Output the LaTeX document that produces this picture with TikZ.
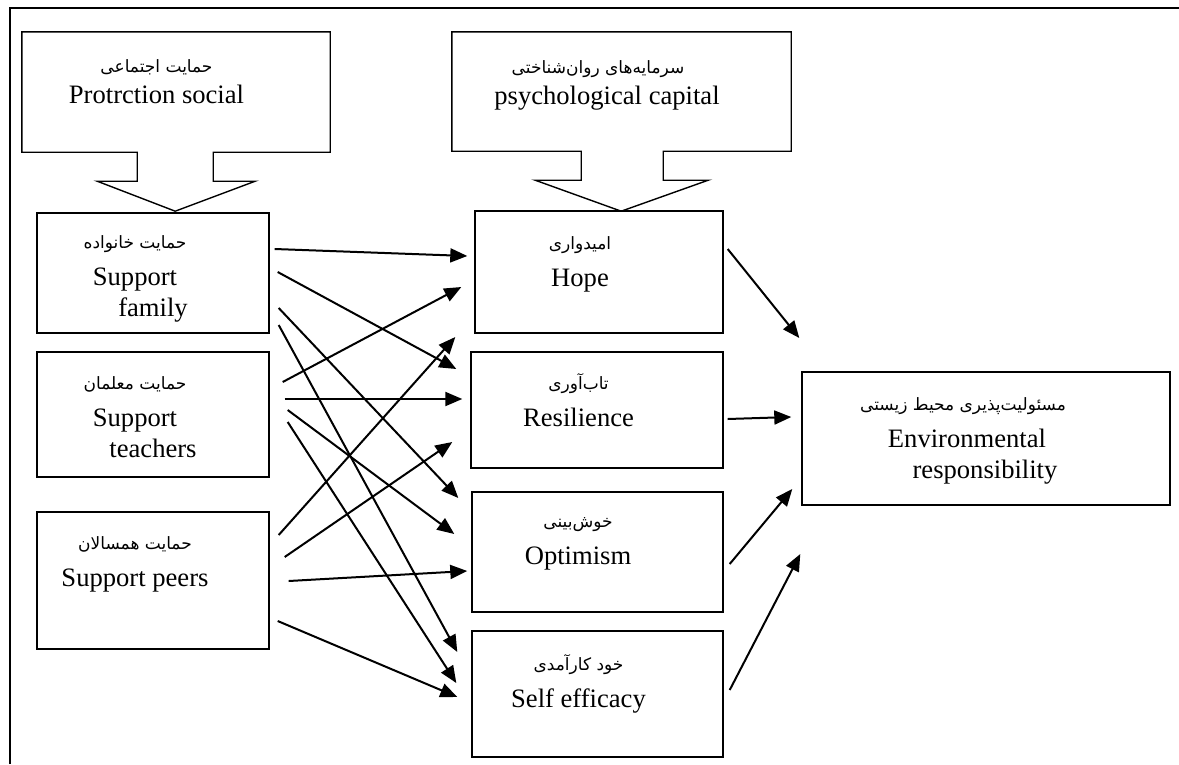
\documentclass[tikz,border=0pt]{standalone}
\usepackage{fontspec}
\setmainfont{Liberation Serif}
\newfontfamily\farsi[Script=Arabic]{DejaVu Sans}
\TeXXeTstate=1
\usetikzlibrary{arrows.meta,calc}

\newcommand{\fa}[1]{{\farsi\fontsize{17}{20}\selectfont\beginR #1\endR}}

\begin{document}
\begin{tikzpicture}[x=1pt, y=-1pt, >={Triangle[length=17pt,width=14pt]}]

    \tikzstyle{box}=[draw, line width=1.4pt, inner sep=0pt]
    \tikzstyle{txt}=[align=center, inner sep=0pt, font=\fontsize{26.6}{31}\selectfont]
    \tikzstyle{arr}=[->, line width=2pt]

    \useasboundingbox (0,0) rectangle (1179,764);
    \draw[line width=1.5pt] (10,764) -- (10,8) -- (1179,8);

    % the two callouts
    \node[inner sep=0pt, minimum width=308pt, minimum height=120pt] (soc) at (176,92) {};
    \node[inner sep=0pt, minimum width=339pt, minimum height=119pt] (psy) at (621.5,91.5) {};
    \draw[line width=1.4pt] (soc.south west) -- (soc.north west) -- (soc.north east) -- (soc.south east)
        -- ++(-117,0) -- ++(0,29) -- ++(42,0) -- ++(-80,30) -- ++(-78,-30) -- ++(40,0) -- ++(0,-29) -- cycle;
    \draw[line width=1.4pt] (psy.south west) -- (psy.north west) -- (psy.north east) -- (psy.south east)
        -- ++(-128,0) -- ++(0,29) -- ++(45,0) -- ++(-87,31) -- ++(-86,-31) -- ++(46,0) -- ++(0,-29) -- cycle;
    \node[txt] (soctxt) at (156.5,81.5) {\fa{حمایت اجتماعی}\\Protrction social};
    \node[txt] (psytxt) at (607,85.5) {\fa{سرمایه‌های روان‌شناختی}\hspace*{18pt}\\psychological capital};

    % sources
    \node[box, minimum width=232pt, minimum height=120pt] (fam)  at (153,273) {};
    \node[box, minimum width=232pt, minimum height=125pt] (tea)  at (153,414.5) {};
    \node[box, minimum width=232pt, minimum height=137pt] (peer) at (153,580.5) {};
    \node[txt] (famtxt)  at ($(fam)+(-18,6)$)    {\fa{حمایت خانواده}\\[6pt]Support\\\hspace*{36pt}family};
    \node[txt] (teatxt)  at ($(tea)+(-18,3)$)    {\fa{حمایت معلمان}\\[6pt]Support\\\hspace*{36pt}teachers};
    \node[txt] (peertxt) at ($(peer)+(-18,-16)$) {\fa{حمایت همسالان}\\[6pt]Support peers};

    % psychological capital
    \node[box, minimum width=248pt, minimum height=122pt] (hope) at (599,272) {};
    \node[box, minimum width=252pt, minimum height=116pt] (res)  at (597,410) {};
    \node[box, minimum width=251pt, minimum height=120pt] (opt)  at (597.5,552) {};
    \node[box, minimum width=251pt, minimum height=126pt] (self) at (597.5,694) {};
    \node[txt] (hopetxt) at ($(hope)+(-19,-8)$)    {\fa{امیدواری}\\[6pt]Hope};
    \node[txt] (restxt)  at ($(res)+(-18.5,-10)$)  {\fa{تاب‌آوری}\\[6pt]Resilience};
    \node[txt] (opttxt)  at ($(opt)+(-19.5,-8)$)   {\fa{خوش‌بینی}\\[6pt]Optimism};
    \node[txt] (selftxt) at ($(self)+(-19,-10.5)$) {\fa{خود کارآمدی}\\[6pt]Self efficacy};

    % outcome
    \node[box, minimum width=368pt, minimum height=133pt] (env) at (986,438.5) {};
    \node[txt] (envtxt) at ($(env)+(-23,2.5)$)
        {\fa{مسئولیت‌پذیری محیط زیستی}\\[6pt]\hspace*{8pt}Environmental\\\hspace*{44pt}responsibility};

    % family
    \draw[arr] ($(fam.east)+(5,-24)$) -- ($(hope.west)+(-7,-16)$);
    \draw[arr] ($(fam.east)+(8,-1)$)  -- ($(res.west)+(-14,-41)$);
    \draw[arr] ($(fam.east)+(9,35)$)  -- ($(opt.west)+(-13,-54)$);
    \draw[arr] ($(fam.east)+(9,52)$)  -- ($(self.west)+(-14,-42)$);
    % teachers
    \draw[arr] ($(tea.east)+(13,-32.5)$) -- ($(hope.west)+(-13,15)$);
    \draw[arr] ($(tea.east)+(15,-15.5)$) -- ($(res.west)+(-8,-11)$);
    \draw[arr] ($(tea.east)+(18,-4.5)$)  -- ($(opt.west)+(-17,-18)$);
    \draw[arr] ($(tea.east)+(18,7.5)$)   -- ($(self.west)+(-15,-11)$);
    % peers
    \draw[arr] ($(peer.east)+(9,-45.5)$) -- ($(hope.west)+(-19,65)$);
    \draw[arr] ($(peer.east)+(15,-23.5)$) -- ($(res.west)+(-18,32)$);
    \draw[arr] ($(peer.east)+(19,0.5)$)  -- ($(opt.west)+(-4,19)$);
    \draw[arr] ($(peer.east)+(8,40.5)$)  -- ($(self.west)+(-14,3)$);
    % to environmental responsibility
    \draw[arr] ($(hope.east)+(4,-23)$) -- ($(env.west)+(-2,-100.5)$);
    \draw[arr] ($(res.east)+(4,9)$)    -- ($(env.west)+(-10,-21.5)$);
    \draw[arr] ($(opt.east)+(6,12)$)   -- ($(env.west)+(-9,50.5)$);
    \draw[arr] ($(self.east)+(6,-4)$)  -- ($(env.west)+(-1,115.5)$);

\end{tikzpicture}
\end{document}
